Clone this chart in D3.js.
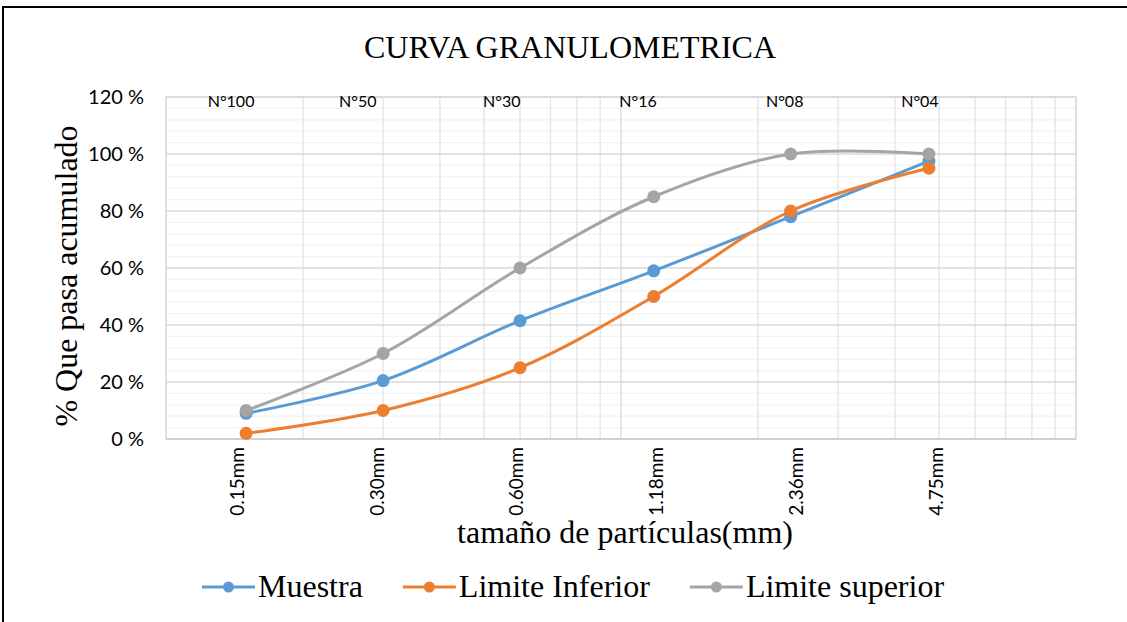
<!DOCTYPE html>
<html><head><meta charset="utf-8">
<script src="https://cdn.jsdelivr.net/npm/d3@7"></script>
<style>body{margin:0;background:#fff;} svg{display:block;}</style>
</head><body>
<svg id="c" width="1127" height="622"></svg>
<script>
const sizes = [0.15, 0.30, 0.60, 1.18, 2.36, 4.75];
const sizeLabels = ["0.15mm","0.30mm","0.60mm","1.18mm","2.36mm","4.75mm"];
const sieveLabels = ["N°100","N°50","N°30","N°16","N°08","N°04"];
const sieveLabelPos = [0.139, 0.264, 0.547, 1.09, 2.29, 4.54];
const muestra = [9, 20.5, 41.5, 59, 78, 97.5];
const limInferior = [2, 10, 25, 50, 80, 95];
const limSuperior = [10, 30, 60, 85, 100, 100];
const yTicks = [0, 20, 40, 60, 80, 100, 120];
const seriesNames = ["Muestra", "Limite Inferior", "Limite superior"];
const colors = ["#5B9BD5", "#ED7D31", "#A5A5A5"];

const svg = d3.select("#c");
svg.append("rect").attr("x",3).attr("y",7).attr("width",1130).attr("height",620)
  .attr("fill","#fff").attr("stroke","#000").attr("stroke-width",2);

const L=166, R=1076, T=97, B=439;
const x = d3.scaleLog().domain([0.1,10]).range([L,R]);
const y = d3.scaleLinear().domain([0,120]).range([B,T]);
const xCat = d3.scalePoint().domain(sizeLabels).range([237,936]);

// gridlines
const minorY = d3.range(0,121,4);
svg.append("g").selectAll("line").data(minorY.filter(v=>v%20!==0)).join("line")
  .attr("x1",L).attr("x2",R).attr("y1",d=>y(d)).attr("y2",d=>y(d))
  .attr("stroke","#f2f2f2").attr("stroke-width",1.3);
const vgrid = [];
for (let d=0.1; d<10; d*=10) for (let k=1;k<=10;k++) vgrid.push(+(d*k).toFixed(3));
svg.append("g").selectAll("line").data(vgrid).join("line")
  .attr("x1",d=>x(d)).attr("x2",d=>x(d)).attr("y1",T).attr("y2",B)
  .attr("stroke","#e4e4e4").attr("stroke-width",1.3);
svg.append("g").selectAll("line").data(yTicks).join("line")
  .attr("x1",L).attr("x2",R).attr("y1",d=>y(d)).attr("y2",d=>y(d))
  .attr("stroke",d=>d===0?"#bfbfbf":"#d9d9d9").attr("stroke-width",d=>d===0?1.8:1.3);
svg.append("rect").attr("x",L).attr("y",T).attr("width",R-L).attr("height",B-T)
  .attr("fill","none").attr("stroke","#d9d9d9").attr("stroke-width",1.3);

// y axis labels
const yAxis = d3.axisLeft(y).tickValues(yTicks).tickSize(0).tickPadding(0).tickFormat(d=>d+" %");
const ya = svg.append("g").attr("transform",`translate(${L-22},0)`).call(yAxis);
ya.select(".domain").remove();
ya.selectAll("text").attr("font-family","Lato, sans-serif").attr("font-size",20).attr("fill","#000");

// x tick labels (rotated)
const xfs = 19;
svg.append("g").selectAll("text").data(sizeLabels).join("text")
  .attr("transform",d=>`translate(${xCat(d)+0.36*xfs},${B+8}) rotate(-90)`)
  .attr("text-anchor","end").attr("font-family","Lato, sans-serif").attr("font-size",xfs)
  .text(d=>d);

// sieve labels
svg.append("g").selectAll("text").data(sieveLabelPos).join("text")
  .attr("x",d=>x(d)).attr("y",T+10).attr("text-anchor","middle")
  .attr("font-family","Lato, sans-serif").attr("font-size",16).text((d,i)=>sieveLabels[i]);

// lines
const line = d3.line().x(d=>x(d[0])).y(d=>y(d[1])).curve(d3.curveCatmullRom.alpha(0.5));
[muestra, limInferior, limSuperior].forEach((s,i)=>{
  const pts = sizes.map((v,j)=>[v,s[j]]);
  const g = svg.append("g");
  g.append("path").attr("d",line(pts)).attr("fill","none").attr("stroke",colors[i])
    .attr("stroke-width",3).attr("stroke-linecap","round");
  g.selectAll("circle").data(pts).join("circle").attr("cx",d=>x(d[0])).attr("cy",d=>y(d[1]))
    .attr("r",6.5).attr("fill",colors[i]);
});

// titles
const serif = "'Liberation Serif', 'Times New Roman', serif";
svg.append("text").attr("x",570).attr("y",58).attr("text-anchor","middle")
  .attr("font-family",serif).attr("font-size",32).text("CURVA GRANULOMETRICA");
svg.append("text").attr("transform",`translate(77,276) rotate(-90)`).attr("text-anchor","middle")
  .attr("font-family",serif).attr("font-size",32).text("% Que pasa acumulado");
svg.append("text").attr("x",625).attr("y",543).attr("text-anchor","middle")
  .attr("font-family",serif).attr("font-size",32).text("tamaño de partículas(mm)");

// legend
let lx = 202;
seriesNames.forEach((name,i)=>{
  const g = svg.append("g").attr("transform",`translate(${lx},587)`);
  g.append("line").attr("x1",0).attr("x2",53).attr("stroke",colors[i]).attr("stroke-width",3);
  g.append("circle").attr("cx",26.5).attr("r",5.5).attr("fill",colors[i]);
  const t = g.append("text").attr("x",56).attr("y",10).attr("font-family",serif)
    .attr("font-size",32).text(name);
  lx += 56 + t.node().getComputedTextLength() + 40;
});
</script>
</body></html>
